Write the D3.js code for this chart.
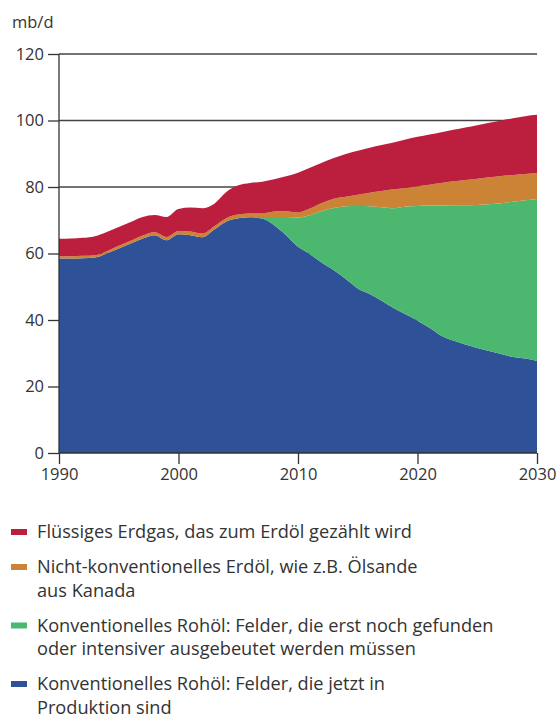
<!DOCTYPE html>
<html>
<head>
<meta charset="utf-8">
<script src="https://cdn.jsdelivr.net/npm/d3@7"></script>
<style>
  body { margin: 0; background: #fff; }
  svg text { font-family: "Open Sans", "Noto Sans", sans-serif; fill: #333; }
</style>
</head>
<body>
<div id="chart"></div>
<script>
// years 1990..2030
const years = d3.range(1990, 2031);

// layer thickness in mb/d
const producing = [58.5, 58.5, 58.6, 58.8, 60.0, 61.5, 63.0, 64.5, 65.5, 64.0,
  65.8, 65.5, 64.9, 67.2, 69.6, 70.6, 70.9, 70.5, 68.5, 65.5,
  62.0, 59.8, 57.2, 55.0, 52.3, 49.5, 47.8, 45.8, 43.6, 41.7,
  39.8, 37.7, 35.3, 33.8, 32.6, 31.6, 30.7, 29.8, 28.9, 28.4, 27.7];
const toFind = [0, 0, 0, 0, 0, 0, 0, 0, 0, 0,
  0, 0, 0, 0, 0, 0, 0, 0.5, 2.5, 5.5,
  8.8, 11.7, 15.6, 18.7, 21.9, 24.8, 26.4, 28.1, 30.0, 32.4,
  34.5, 36.7, 39.1, 40.7, 41.9, 43.0, 44.1, 45.3, 46.7, 47.6, 48.7];
const unconventional = [0.7, 0.7, 0.7, 0.7, 0.7, 0.8, 0.8, 0.9, 0.9, 1.0,
  1.0, 1.1, 1.1, 1.0, 1.0, 1.1, 1.1, 1.0, 1.6, 1.7,
  1.5, 2.0, 2.4, 2.8, 2.9, 3.4, 4.1, 4.9, 5.7, 5.6,
  5.9, 6.3, 6.8, 7.2, 7.6, 7.9, 8.1, 8.2, 8.0, 7.9, 7.8];
const ngl = [5.2, 5.3, 5.4, 5.7, 5.8, 5.7, 5.7, 5.6, 5.2, 6.0,
  6.6, 7.2, 7.6, 6.8, 7.9, 8.8, 9.2, 9.6, 9.7, 10.5,
  12.0, 12.3, 12.1, 12.2, 12.8, 13.2, 13.5, 13.8, 14.1, 14.6,
  14.9, 15.1, 15.3, 15.5, 15.8, 16.1, 16.4, 16.7, 17.1, 17.4, 17.5];

const keys = ["producing", "toFind", "unconventional", "ngl"];
const colors = {producing: "#2f5197", toFind: "#4bb76f", unconventional: "#cb8435", ngl: "#bc1e3e"};

const yTicks = [0, 20, 40, 60, 80, 100, 120];
const xTicks = [1990, 2000, 2010, 2020, 2030];
const unitLabel = "mb/d";

// legend, top entry first, each entry split in lines
const legendItems = [
  {key: "ngl", lines: ["Flüssiges Erdgas, das zum Erdöl gezählt wird"]},
  {key: "unconventional", lines: ["Nicht-konventionelles Erdöl, wie z.B. Ölsande", "aus Kanada"]},
  {key: "toFind", lines: ["Konventionelles Rohöl: Felder, die erst noch gefunden", "oder intensiver ausgebeutet werden müssen"]},
  {key: "producing", lines: ["Konventionelles Rohöl: Felder, die jetzt in", "Produktion sind"]}
];

const data = years.map((yr, i) => ({
  year: yr,
  producing: producing[i],
  toFind: toFind[i],
  unconventional: unconventional[i],
  ngl: ngl[i]
}));

const WIDTH = 557, HEIGHT = 717;
const MARGIN = {left: 59, right: 20, top: 54, bottom: 264};

const svg = d3.select("#chart").append("svg")
  .attr("width", WIDTH)
  .attr("height", HEIGHT);

const xScale = d3.scaleLinear()
  .domain([1990, 2030])
  .range([MARGIN.left, WIDTH - MARGIN.right]);

const yScale = d3.scaleLinear()
  .domain([0, 120])
  .range([HEIGHT - MARGIN.bottom, MARGIN.top]);

// gridlines behind the areas
svg.append("g")
  .selectAll("line")
  .data(yTicks.filter(d => d > 0))
  .join("line")
  .attr("x1", MARGIN.left)
  .attr("x2", xScale(2030))
  .attr("y1", d => yScale(d))
  .attr("y2", d => yScale(d))
  .attr("stroke", "#444")
  .attr("stroke-width", 1.3);

const series = d3.stack().keys(keys)(data);

const area = d3.area()
  .x(d => xScale(d.data.year))
  .y0(d => yScale(d[0]))
  .y1(d => yScale(d[1]))
  .curve(d3.curveMonotoneX);

svg.append("g")
  .selectAll("path")
  .data(series)
  .join("path")
  .attr("fill", d => colors[d.key])
  .attr("d", area);

// axes
const yAxisG = svg.append("g")
  .attr("transform", `translate(${MARGIN.left},0)`)
  .call(d3.axisLeft(yScale).tickValues(yTicks).tickSize(11).tickPadding(4));

const xAxisG = svg.append("g")
  .attr("transform", `translate(0,${yScale(0)})`)
  .call(d3.axisBottom(xScale).tickValues(xTicks).tickFormat(d3.format("d")).tickSize(11).tickPadding(4));

[yAxisG, xAxisG].forEach(g => {
  g.select(".domain").attr("stroke", "#333").attr("stroke-width", 1.3);
  g.selectAll(".tick line").attr("stroke", "#333").attr("stroke-width", 1.3);
  g.selectAll(".tick text").attr("font-size", 16.5).attr("fill", "#333")
    .style("font-family", '"Open Sans", sans-serif');
});
yAxisG.select(".domain").attr("d", `M0,${yScale(120)}V${yScale(0)}`);
xAxisG.select(".domain").attr("d", `M${xScale(1990)},0H${xScale(2030)}`);

svg.append("text")
  .attr("x", 12)
  .attr("y", 28)
  .attr("font-size", 16.5)
  .text(unitLabel);

// legend
const legendG = svg.append("g");
let baseY = 538;
legendItems.forEach(item => {
  legendG.append("rect")
    .attr("x", 11)
    .attr("y", baseY - 9)
    .attr("width", 16)
    .attr("height", 6)
    .attr("fill", colors[item.key]);
  item.lines.forEach((ln, j) => {
    legendG.append("text")
      .attr("x", 37)
      .attr("y", baseY + j * 23.5)
      .attr("font-size", 18.2)
      .text(ln);
  });
  baseY += (item.lines.length - 1) * 23.5 + 35;
});
</script>
</body>
</html>
